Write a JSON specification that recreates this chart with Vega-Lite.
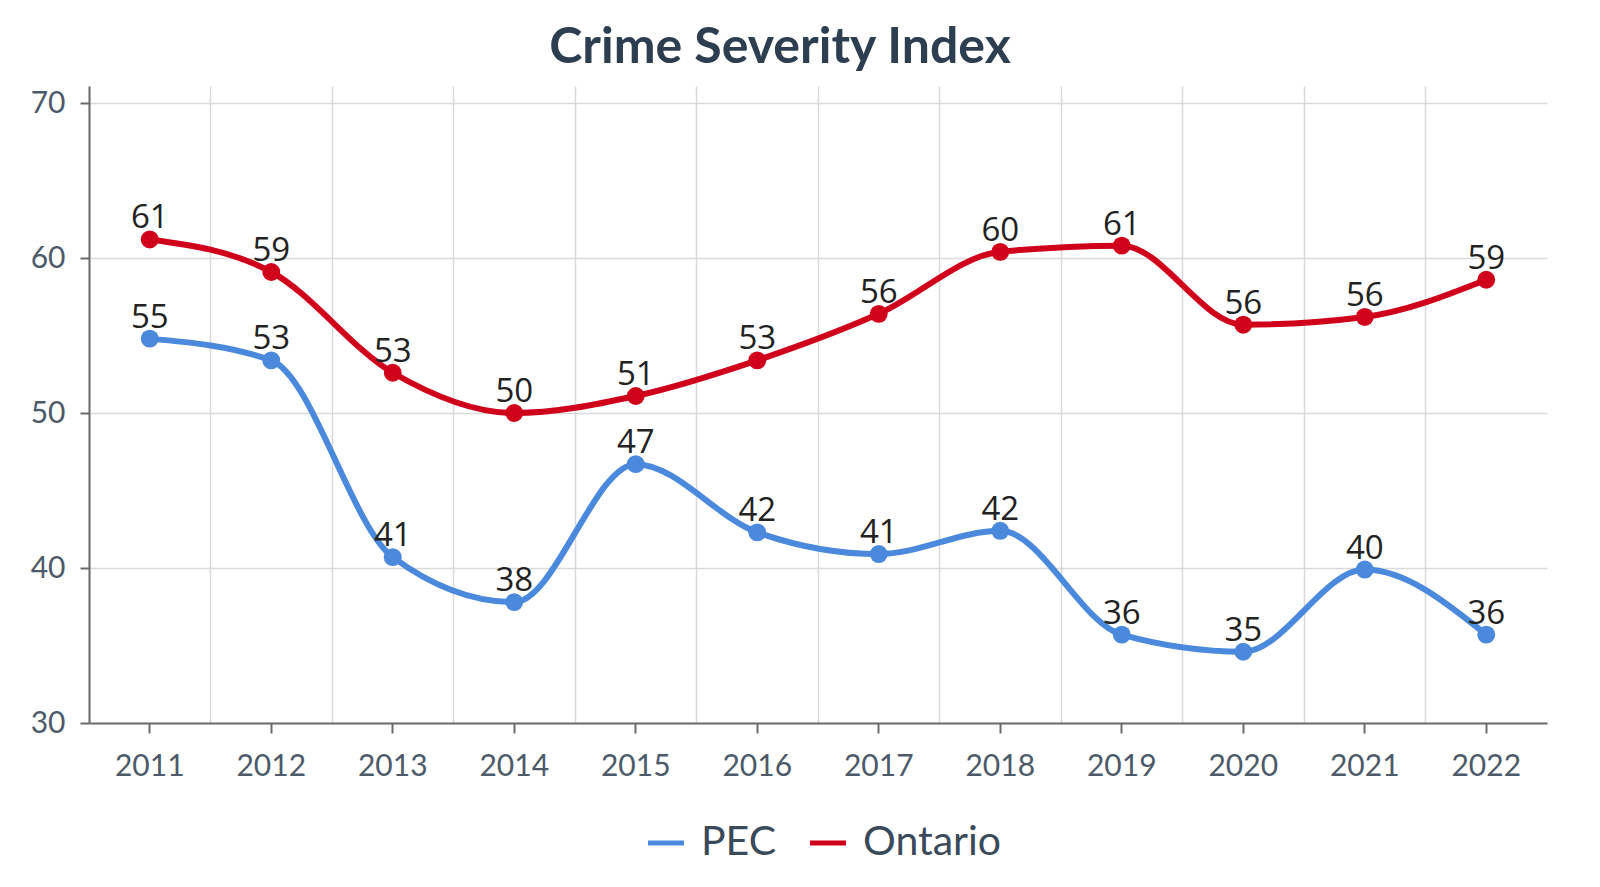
{
  "$schema": "https://vega.github.io/schema/vega-lite/v6.json",
  "width": 1458,
  "height": 637,
  "autosize": {"type": "none"},
  "padding": {"left": 89, "top": 86, "right": 53, "bottom": 164},
  "background": "white",
  "title": {
    "text": "Crime Severity Index",
    "font": "Lato",
    "fontWeight": "bold",
    "fontSize": 50,
    "color": "#2c3e50",
    "anchor": "middle",
    "dx": -38,
    "dy": 49,
    "baseline": "alphabetic",
    "offset": 22
  },
  "config": {"view": {"stroke": null}},
  "data": {
    "values": [
      {"year": "2011", "series": "PEC", "value": 54.8},
      {"year": "2012", "series": "PEC", "value": 53.4},
      {"year": "2013", "series": "PEC", "value": 40.7},
      {"year": "2014", "series": "PEC", "value": 37.8},
      {"year": "2015", "series": "PEC", "value": 46.7},
      {"year": "2016", "series": "PEC", "value": 42.3},
      {"year": "2017", "series": "PEC", "value": 40.9},
      {"year": "2018", "series": "PEC", "value": 42.4},
      {"year": "2019", "series": "PEC", "value": 35.7},
      {"year": "2020", "series": "PEC", "value": 34.6},
      {"year": "2021", "series": "PEC", "value": 39.9},
      {"year": "2022", "series": "PEC", "value": 35.7},
      {"year": "2011", "series": "Ontario", "value": 61.2},
      {"year": "2012", "series": "Ontario", "value": 59.1},
      {"year": "2013", "series": "Ontario", "value": 52.6},
      {"year": "2014", "series": "Ontario", "value": 50.0},
      {"year": "2015", "series": "Ontario", "value": 51.1},
      {"year": "2016", "series": "Ontario", "value": 53.4},
      {"year": "2017", "series": "Ontario", "value": 56.4},
      {"year": "2018", "series": "Ontario", "value": 60.4},
      {"year": "2019", "series": "Ontario", "value": 60.8},
      {"year": "2020", "series": "Ontario", "value": 55.7},
      {"year": "2021", "series": "Ontario", "value": 56.2},
      {"year": "2022", "series": "Ontario", "value": 58.6}
    ]
  },
  "encoding": {
    "y": {
      "field": "value",
      "type": "quantitative",
      "scale": {"domain": [30, 71.1], "nice": false, "zero": false},
      "axis": {
        "title": null,
        "values": [30, 40, 50, 60, 70],
        "grid": true,
        "gridColor": "#d9d9d9",
        "gridWidth": 1.5,
        "domainColor": "#6b6b6b",
        "domainWidth": 2,
        "tickColor": "#6b6b6b",
        "tickWidth": 2,
        "tickSize": 9,
        "labelFont": "Lato",
        "labelFontSize": 30,
        "labelColor": "#4d5a6a",
        "labelPadding": 15
      }
    },
    "color": {
      "field": "series",
      "type": "nominal",
      "scale": {"domain": ["PEC", "Ontario"], "range": ["#4a89dc", "#d0021b"]},
      "legend": {
        "title": null,
        "orient": "none",
        "legendX": 556,
        "legendY": 736,
        "direction": "horizontal",
        "symbolType": "stroke",
        "symbolStrokeWidth": 5,
        "symbolSize": 1300,
        "labelFont": "Lato",
        "labelFontSize": 41,
        "labelColor": "#3b4a5a",
        "labelOffset": 14,
        "columnPadding": 22
      }
    }
  },
  "layer": [
    {
      "mark": {"type": "line", "interpolate": "monotone", "strokeWidth": 6},
      "encoding": {
        "x": {
          "field": "year",
          "type": "ordinal",
          "scale": {"type": "band", "paddingInner": 0, "paddingOuter": 0},
          "axis": {
            "orient": "top",
            "title": null,
            "labels": false,
            "ticks": false,
            "domain": false,
            "grid": true,
            "bandPosition": 0,
            "gridColor": "#d9d9d9",
            "gridWidth": 1.5
          }
        }
      }
    },
    {
      "mark": {"type": "point", "filled": true, "size": 320, "opacity": 1},
      "encoding": {
        "x": {
          "field": "year",
          "type": "ordinal",
          "scale": {"type": "band", "paddingInner": 0, "paddingOuter": 0},
          "axis": {
            "orient": "bottom",
            "title": null,
            "grid": false,
            "labelAngle": 0,
            "labelFont": "Lato",
            "labelFontSize": 30,
            "labelColor": "#4d5a6a",
            "labelPadding": 18,
            "domainColor": "#6b6b6b",
            "domainWidth": 2,
            "tickColor": "#6b6b6b",
            "tickWidth": 2,
            "tickSize": 10
          }
        }
      }
    },
    {
      "mark": {"type": "text", "font": "Open Sans", "fontSize": 33, "color": "#222222", "baseline": "alphabetic", "dy": -11},
      "encoding": {
        "x": {
          "field": "year",
          "type": "ordinal",
          "scale": {"type": "band", "paddingInner": 0, "paddingOuter": 0},
          "axis": null
        },
        "text": {"field": "value", "type": "quantitative", "format": ".0f"},
        "color": {"value": "#222222"}
      }
    }
  ],
  "resolve": {"axis": {"x": "independent"}}
}
